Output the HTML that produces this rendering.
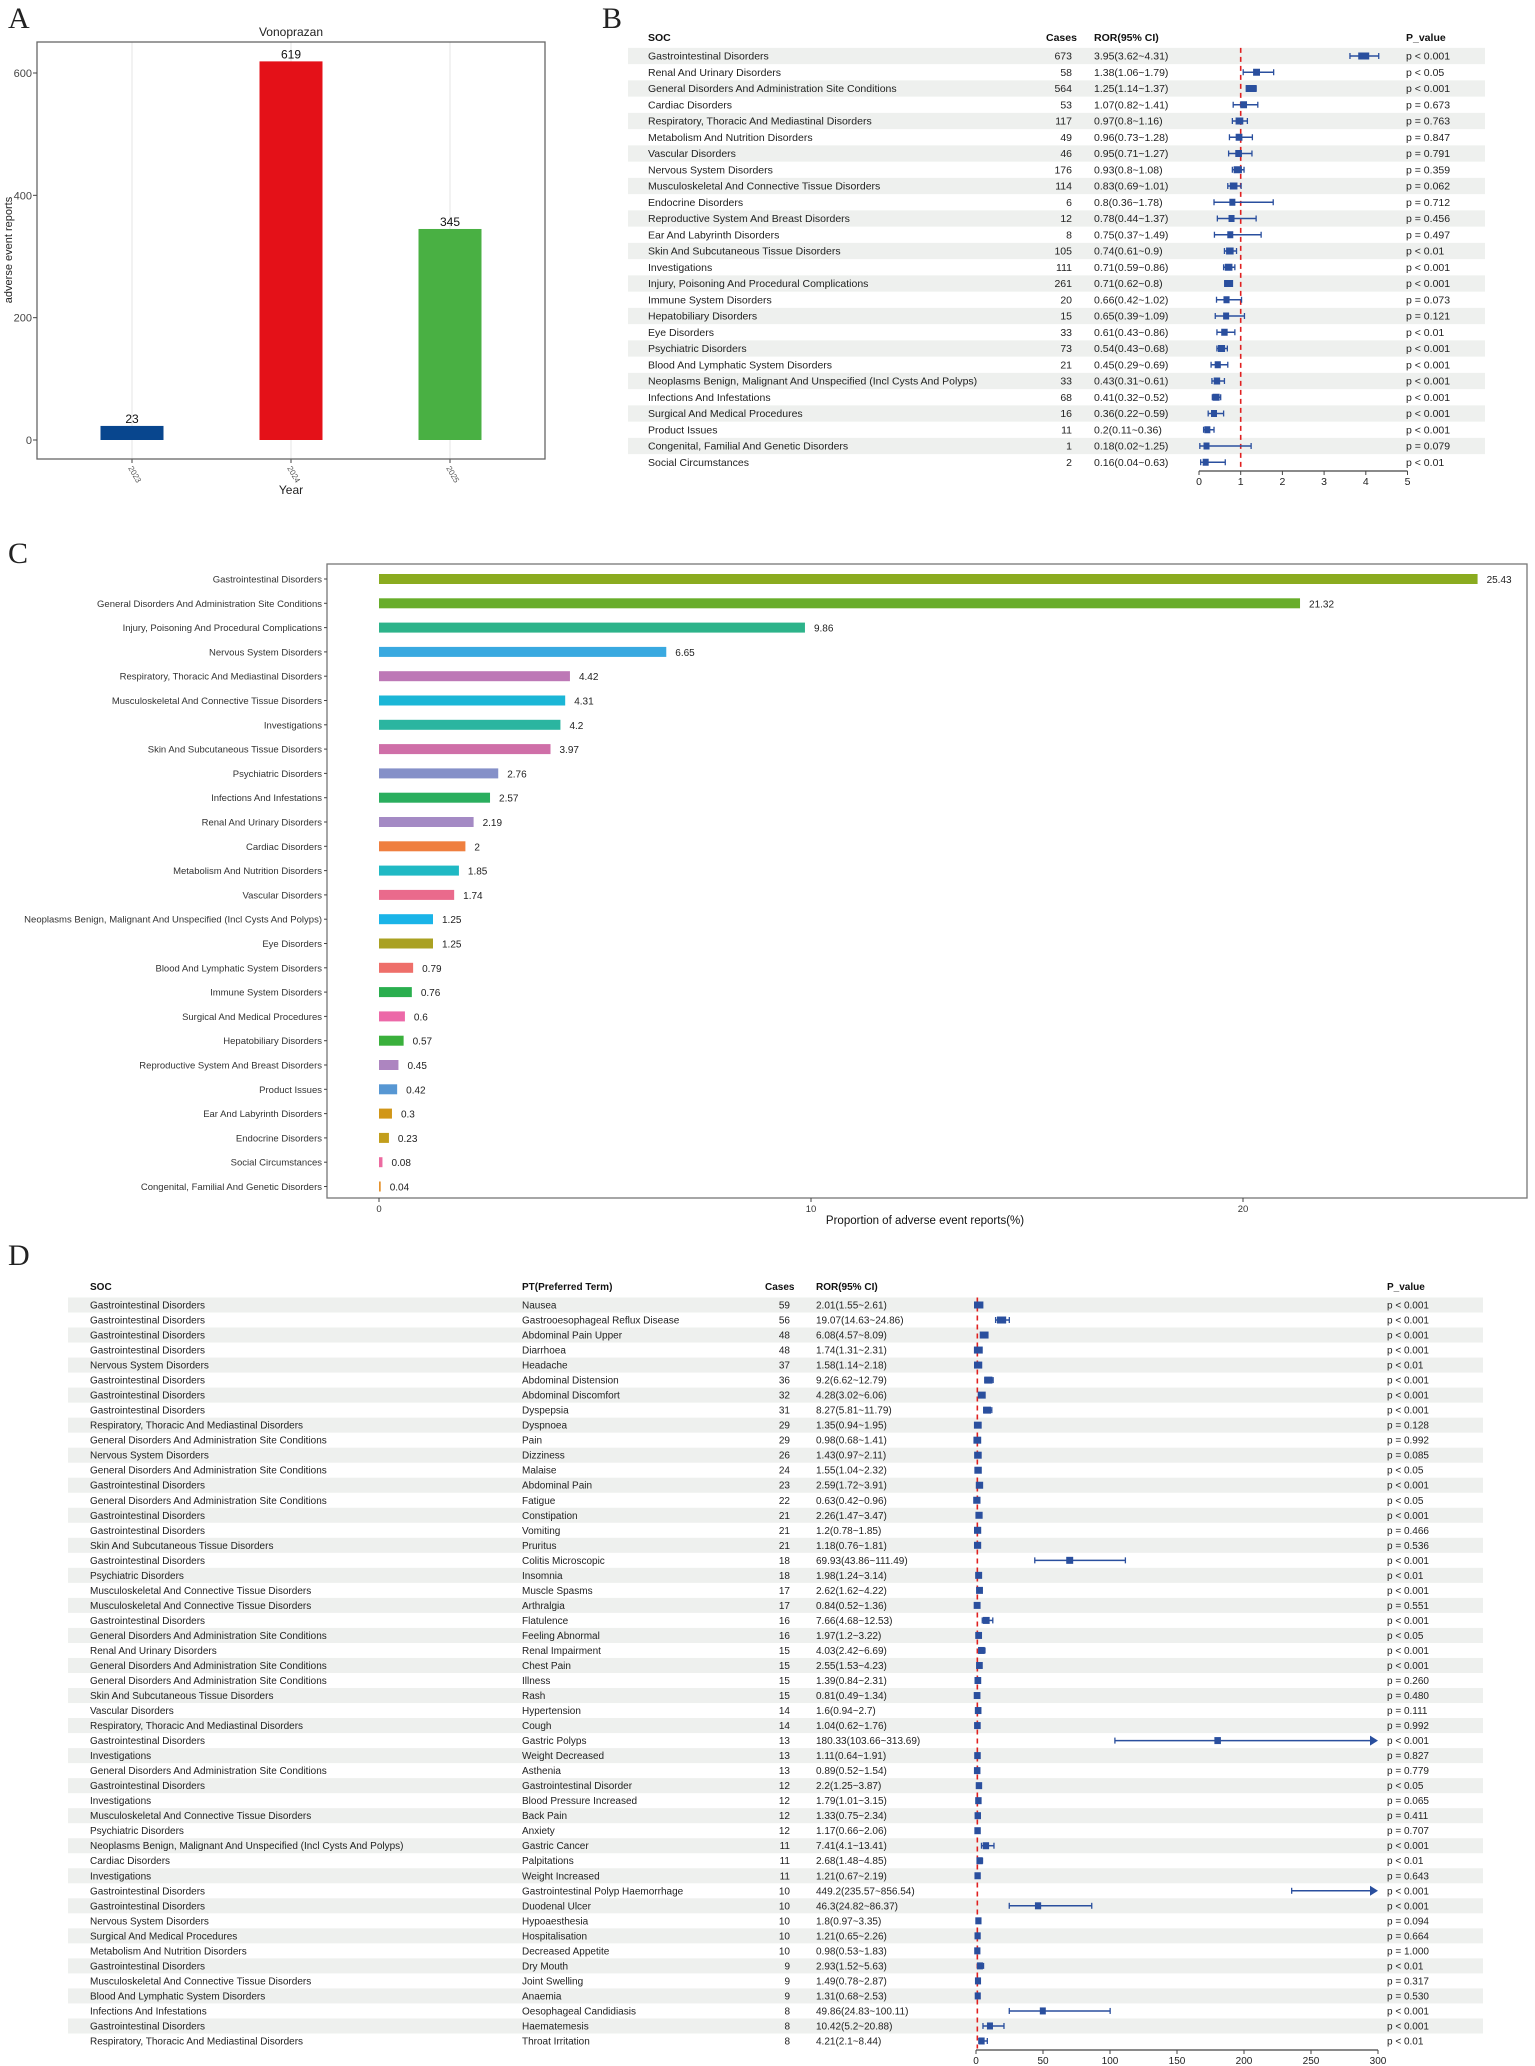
<!DOCTYPE html>
<html><head><meta charset="utf-8">
<style>
html,body{margin:0;padding:0;background:#fff;}
svg{display:block;font-family:"Liberation Sans",Arial,sans-serif;}
.pl{font-family:"Liberation Serif",serif;font-size:30px;fill:#222;}
</style></head>
<body>
<svg id="fig" width="1535" height="2066" viewBox="0 0 1535 2066" xmlns="http://www.w3.org/2000/svg">
<text class="pl" x="8" y="28">A</text>
<text class="pl" x="602" y="28">B</text>
<text class="pl" x="8" y="563">C</text>
<text class="pl" x="8" y="1265">D</text>
<g id="gA"></g>
<g id="gB"></g>
<g id="gC"></g>
<g id="gD"></g>
</svg>
<script>
var yearCats = ["2023","2024","2025"];
var yearCounts = [23,619,345];
var yearTicks = [0,200,400,600];
var yearColors = ["#08468e","#e41118","#49b043"];

var socNames = ["Gastrointestinal Disorders","Renal And Urinary Disorders","General Disorders And Administration Site Conditions","Cardiac Disorders","Respiratory, Thoracic And Mediastinal Disorders","Metabolism And Nutrition Disorders","Vascular Disorders","Nervous System Disorders","Musculoskeletal And Connective Tissue Disorders","Endocrine Disorders","Reproductive System And Breast Disorders","Ear And Labyrinth Disorders","Skin And Subcutaneous Tissue Disorders","Investigations","Injury, Poisoning And Procedural Complications","Immune System Disorders","Hepatobiliary Disorders","Eye Disorders","Psychiatric Disorders","Blood And Lymphatic System Disorders","Neoplasms Benign, Malignant And Unspecified (Incl Cysts And Polyps)","Infections And Infestations","Surgical And Medical Procedures","Product Issues","Congenital, Familial And Genetic Disorders","Social Circumstances"];
var socCases = [673,58,564,53,117,49,46,176,114,6,12,8,105,111,261,20,15,33,73,21,33,68,16,11,1,2];
var socRor = [3.95,1.38,1.25,1.07,0.97,0.96,0.95,0.93,0.83,0.8,0.78,0.75,0.74,0.71,0.71,0.66,0.65,0.61,0.54,0.45,0.43,0.41,0.36,0.2,0.18,0.16];
var socLo = [3.62,1.06,1.14,0.82,0.8,0.73,0.71,0.8,0.69,0.36,0.44,0.37,0.61,0.59,0.62,0.42,0.39,0.43,0.43,0.29,0.31,0.32,0.22,0.11,0.02,0.04];
var socHi = [4.31,1.79,1.37,1.41,1.16,1.28,1.27,1.08,1.01,1.78,1.37,1.49,0.9,0.86,0.8,1.02,1.09,0.86,0.68,0.69,0.61,0.52,0.59,0.36,1.25,0.63];
var socP = ["p < 0.001","p < 0.05","p < 0.001","p = 0.673","p = 0.763","p = 0.847","p = 0.791","p = 0.359","p = 0.062","p = 0.712","p = 0.456","p = 0.497","p < 0.01","p < 0.001","p < 0.001","p = 0.073","p = 0.121","p < 0.01","p < 0.001","p < 0.001","p < 0.001","p < 0.001","p < 0.001","p < 0.001","p = 0.079","p < 0.01"];
var socTicks = [0,1,2,3,4,5];

var propNames = ["Gastrointestinal Disorders","General Disorders And Administration Site Conditions","Injury, Poisoning And Procedural Complications","Nervous System Disorders","Respiratory, Thoracic And Mediastinal Disorders","Musculoskeletal And Connective Tissue Disorders","Investigations","Skin And Subcutaneous Tissue Disorders","Psychiatric Disorders","Infections And Infestations","Renal And Urinary Disorders","Cardiac Disorders","Metabolism And Nutrition Disorders","Vascular Disorders","Neoplasms Benign, Malignant And Unspecified (Incl Cysts And Polyps)","Eye Disorders","Blood And Lymphatic System Disorders","Immune System Disorders","Surgical And Medical Procedures","Hepatobiliary Disorders","Reproductive System And Breast Disorders","Product Issues","Ear And Labyrinth Disorders","Endocrine Disorders","Social Circumstances","Congenital, Familial And Genetic Disorders"];
var propValues = [25.43,21.32,9.86,6.65,4.42,4.31,4.2,3.97,2.76,2.57,2.19,2,1.85,1.74,1.25,1.25,0.79,0.76,0.6,0.57,0.45,0.42,0.3,0.23,0.08,0.04];
var propColors = ["#8aab1f","#68ad2a","#2db38a","#39a9e0","#bd78b6","#1bb6d6","#2bb5a0","#cf6fa8","#8590c8","#2aae5e","#a48ac4","#ef7f3f","#1fb9c4","#ea6a8c","#1ab4e8","#aaa122","#ee6f6a","#2aae4e","#ec69a8","#3ab03c","#ad85c0","#5797d3","#d19617","#c29e1c","#ec6aa0","#e5922e"];
var propTicks = [0,10,20];

var ptSoc = ["Gastrointestinal Disorders","Gastrointestinal Disorders","Gastrointestinal Disorders","Gastrointestinal Disorders","Nervous System Disorders","Gastrointestinal Disorders","Gastrointestinal Disorders","Gastrointestinal Disorders","Respiratory, Thoracic And Mediastinal Disorders","General Disorders And Administration Site Conditions","Nervous System Disorders","General Disorders And Administration Site Conditions","Gastrointestinal Disorders","General Disorders And Administration Site Conditions","Gastrointestinal Disorders","Gastrointestinal Disorders","Skin And Subcutaneous Tissue Disorders","Gastrointestinal Disorders","Psychiatric Disorders","Musculoskeletal And Connective Tissue Disorders","Musculoskeletal And Connective Tissue Disorders","Gastrointestinal Disorders","General Disorders And Administration Site Conditions","Renal And Urinary Disorders","General Disorders And Administration Site Conditions","General Disorders And Administration Site Conditions","Skin And Subcutaneous Tissue Disorders","Vascular Disorders","Respiratory, Thoracic And Mediastinal Disorders","Gastrointestinal Disorders","Investigations","General Disorders And Administration Site Conditions","Gastrointestinal Disorders","Investigations","Musculoskeletal And Connective Tissue Disorders","Psychiatric Disorders","Neoplasms Benign, Malignant And Unspecified (Incl Cysts And Polyps)","Cardiac Disorders","Investigations","Gastrointestinal Disorders","Gastrointestinal Disorders","Nervous System Disorders","Surgical And Medical Procedures","Metabolism And Nutrition Disorders","Gastrointestinal Disorders","Musculoskeletal And Connective Tissue Disorders","Blood And Lymphatic System Disorders","Infections And Infestations","Gastrointestinal Disorders","Respiratory, Thoracic And Mediastinal Disorders"];
var ptNames = ["Nausea","Gastrooesophageal Reflux Disease","Abdominal Pain Upper","Diarrhoea","Headache","Abdominal Distension","Abdominal Discomfort","Dyspepsia","Dyspnoea","Pain","Dizziness","Malaise","Abdominal Pain","Fatigue","Constipation","Vomiting","Pruritus","Colitis Microscopic","Insomnia","Muscle Spasms","Arthralgia","Flatulence","Feeling Abnormal","Renal Impairment","Chest Pain","Illness","Rash","Hypertension","Cough","Gastric Polyps","Weight Decreased","Asthenia","Gastrointestinal Disorder","Blood Pressure Increased","Back Pain","Anxiety","Gastric Cancer","Palpitations","Weight Increased","Gastrointestinal Polyp Haemorrhage","Duodenal Ulcer","Hypoaesthesia","Hospitalisation","Decreased Appetite","Dry Mouth","Joint Swelling","Anaemia","Oesophageal Candidiasis","Haematemesis","Throat Irritation"];
var ptCases = [59,56,48,48,37,36,32,31,29,29,26,24,23,22,21,21,21,18,18,17,17,16,16,15,15,15,15,14,14,13,13,13,12,12,12,12,11,11,11,10,10,10,10,10,9,9,9,8,8,8];
var ptRor = [2.01,19.07,6.08,1.74,1.58,9.2,4.28,8.27,1.35,0.98,1.43,1.55,2.59,0.63,2.26,1.2,1.18,69.93,1.98,2.62,0.84,7.66,1.97,4.03,2.55,1.39,0.81,1.6,1.04,180.33,1.11,0.89,2.2,1.79,1.33,1.17,7.41,2.68,1.21,449.2,46.3,1.8,1.21,0.98,2.93,1.49,1.31,49.86,10.42,4.21];
var ptLo = [1.55,14.63,4.57,1.31,1.14,6.62,3.02,5.81,0.94,0.68,0.97,1.04,1.72,0.42,1.47,0.78,0.76,43.86,1.24,1.62,0.52,4.68,1.2,2.42,1.53,0.84,0.49,0.94,0.62,103.66,0.64,0.52,1.25,1.01,0.75,0.66,4.1,1.48,0.67,235.57,24.82,0.97,0.65,0.53,1.52,0.78,0.68,24.83,5.2,2.1];
var ptHi = [2.61,24.86,8.09,2.31,2.18,12.79,6.06,11.79,1.95,1.41,2.11,2.32,3.91,0.96,3.47,1.85,1.81,111.49,3.14,4.22,1.36,12.53,3.22,6.69,4.23,2.31,1.34,2.7,1.76,313.69,1.91,1.54,3.87,3.15,2.34,2.06,13.41,4.85,2.19,856.54,86.37,3.35,2.26,1.83,5.63,2.87,2.53,100.11,20.88,8.44];
var ptP = ["p < 0.001","p < 0.001","p < 0.001","p < 0.001","p < 0.01","p < 0.001","p < 0.001","p < 0.001","p = 0.128","p = 0.992","p = 0.085","p < 0.05","p < 0.001","p < 0.05","p < 0.001","p = 0.466","p = 0.536","p < 0.001","p < 0.01","p < 0.001","p = 0.551","p < 0.001","p < 0.05","p < 0.001","p < 0.001","p = 0.260","p = 0.480","p = 0.111","p = 0.992","p < 0.001","p = 0.827","p = 0.779","p < 0.05","p = 0.065","p = 0.411","p = 0.707","p < 0.001","p < 0.01","p = 0.643","p < 0.001","p < 0.001","p = 0.094","p = 0.664","p = 1.000","p < 0.01","p = 0.317","p = 0.530","p < 0.001","p < 0.001","p < 0.01"];
var ptTicks = [0,50,100,150,200,250,300];

var SVGNS = "http://www.w3.org/2000/svg";
function mk(parent, tag, attrs, text) {
  var e = document.createElementNS(SVGNS, tag);
  for (var k in attrs) { e.setAttribute(k, String(attrs[k])); }
  if (text !== undefined && text !== null) { e.textContent = String(text); }
  parent.appendChild(e);
  return e;
}

function drawA() {
  var g = document.getElementById('gA');
  var L = 37, R = 545, T = 42, B = 459;
  var base = 440, ppv = (440 - 73) / 600;
  function ya(v) { return base - v * ppv; }
  function xa(i) { return 132 + i * 159; }
  var t = mk(g, 'text', {x: 291, y: 36, 'font-size': 12, 'text-anchor': 'middle', fill: '#222'}, 'Vonoprazan');
  
  
  for (var i = 0; i < yearCats.length; i++) {
    var gl = mk(g, 'line', {x1: xa(i), x2: xa(i), y1: T, y2: B, stroke: '#e6e6e6', 'stroke-width': 1});
    
    
  }
  for (var j = 0; j < yearCounts.length; j++) {
    var v = yearCounts[j];
    var r = mk(g, 'rect', {x: xa(j) - 31.5, y: ya(v), width: 63, height: base - ya(v), fill: yearColors[j]});
    
    
    var lb = mk(g, 'text', {x: xa(j), y: ya(v) - 3, 'font-size': 12, 'text-anchor': 'middle', fill: '#111'}, v);
    
    
    var tk = mk(g, 'line', {x1: xa(j), x2: xa(j), y1: B, y2: B + 4, stroke: '#444'});
    
    
    var lx = xa(j) - 4, ly = B + 9;
    var xl = mk(g, 'text', {x: lx, y: ly, 'font-size': 8, fill: '#555', transform: 'rotate(60 ' + lx + ' ' + ly + ')'}, yearCats[j]);
    
    
  }
  var box = mk(g, 'rect', {x: L, y: T, width: R - L, height: B - T, fill: 'none', stroke: '#666', 'stroke-width': 1.3});
  
  
  for (var k = 0; k < yearTicks.length; k++) {
    var tv = yearTicks[k];
    var yt1 = mk(g, 'line', {x1: L - 4, x2: L, y1: ya(tv), y2: ya(tv), stroke: '#444'});
    
    
    var tl = mk(g, 'text', {x: L - 5, y: ya(tv) + 4, 'font-size': 11, 'text-anchor': 'end', fill: '#444'}, tv);
    
    
  }
  var xt = mk(g, 'text', {x: 291, y: 494, 'font-size': 12, 'text-anchor': 'middle', fill: '#222'}, 'Year');
  
  
  var yt = mk(g, 'text', {x: 12, y: 250, 'font-size': 11, 'text-anchor': 'middle', fill: '#222', transform: 'rotate(-90 12 250)'}, 'adverse event reports');
  
  
}

function forest(g, o) {
  var n = o.ror.length;
  function rowY(i) { return o.y0 + i * o.step; }
  function xs(v) { return o.x0 + Math.min(v, o.max) * o.ppu; }
  for (var h = 0; h < o.headers.length; h++) {
    var hd = o.headers[h];
    var ht = mk(g, 'text', {x: hd[1], y: o.hy, 'font-size': o.fs, 'font-weight': 'bold', fill: '#111'}, hd[0]);
    
    
  }
  for (var i = 0; i < n; i += 2) {
    var b = mk(g, 'rect', {x: o.bx0, y: rowY(i) - o.step / 2, width: o.bx1 - o.bx0, height: o.step, fill: '#eef0ee'});
    
    
  }
  for (var i2 = 0; i2 < n; i2++) {
    var cy = rowY(i2) + o.fs * 0.35;
    var cols = o.textCols(i2);
    for (var c = 0; c < cols.length; c++) {
      var cc = cols[c];
      var tx = mk(g, 'text', {x: cc[1], y: cy, 'font-size': o.fs, 'text-anchor': cc[2], fill: '#222'}, cc[0]);
      
      
    }
  }
  var rl = mk(g, 'line', {x1: xs(1), x2: xs(1), y1: o.y0 - o.step / 2, y2: rowY(n - 1) + o.step / 2, stroke: '#e02020', 'stroke-width': 1.6, 'stroke-dasharray': '5,4'});
  
  
  for (var i3 = 0; i3 < n; i3++) {
    var yy = rowY(i3);
    var over = o.hi[i3] > o.max;
    var x2 = over ? xs(o.max) - 6 : xs(o.hi[i3]);
    var ci = mk(g, 'line', {x1: xs(o.lo[i3]), x2: x2, y1: yy, y2: yy, stroke: '#2a4f9e', 'stroke-width': 1.5});
    
    
    var cap1 = mk(g, 'line', {x1: xs(o.lo[i3]), x2: xs(o.lo[i3]), y1: yy - 3, y2: yy + 3, stroke: '#2a4f9e', 'stroke-width': 1.3});
    
    
    if (!over) {
      var cap2 = mk(g, 'line', {x1: xs(o.hi[i3]), x2: xs(o.hi[i3]), y1: yy - 3, y2: yy + 3, stroke: '#2a4f9e', 'stroke-width': 1.3});
      
      
    } else {
      var xm = xs(o.max);
      var ar = mk(g, 'polygon', {points: xm + ',' + yy + ' ' + (xm - 8) + ',' + (yy - 5) + ' ' + (xm - 8) + ',' + (yy + 5), fill: '#2a4f9e'});
      
      
    }
    if (o.ror[i3] <= o.max) {
      var s = o.size(o.cases[i3]);
      var sq = mk(g, 'rect', {x: xs(o.ror[i3]) - s / 2, y: yy - o.sh / 2, width: s, height: o.sh, fill: '#2a4f9e'});
      
      
    }
  }
  var last = o.ticks[o.ticks.length - 1];
  var ax = mk(g, 'line', {x1: xs(0), x2: xs(last), y1: o.ay, y2: o.ay, stroke: '#444', 'stroke-width': 1.3});
  
  
  for (var t = 0; t < o.ticks.length; t++) {
    var tv = o.ticks[t];
    var tk = mk(g, 'line', {x1: xs(tv), x2: xs(tv), y1: o.ay, y2: o.ay + 4, stroke: '#444'});
    
    
    var tl = mk(g, 'text', {x: xs(tv), y: o.ay + 14, 'font-size': o.fs, 'text-anchor': 'middle', fill: '#222'}, tv);
    
    
  }
}

function drawB() {
  forest(document.getElementById('gB'), {
    ror: socRor, lo: socLo, hi: socHi, cases: socCases, max: 5, ticks: socTicks,
    x0: 1199, ppu: 41.7, y0: 56, step: 16.25, hy: 41, fs: 10.5, bx0: 628, bx1: 1485, ay: 471, sh: 7,
    size: function (c) { return Math.max(6, Math.min(11, 5 + Math.sqrt(c) * 0.25)); },
    headers: [["SOC", 648], ["Cases", 1046], ["ROR(95% CI)", 1094], ["P_value", 1406]],
    textCols: function (i) {
      return [[socNames[i], 648, 'start', 'soc-name'], [socCases[i], 1072, 'end', 'case-count'],
        [socRor[i] + '(' + socLo[i] + '~' + socHi[i] + ')', 1094, 'start', 'ror-ci-text'], [socP[i], 1406, 'start', 'p-value']];
    }
  });
}

function drawC() {
  var g = document.getElementById('gC');
  var L = 327, R = 1527, T = 564, B = 1198;
  var x0 = 379, ppu = 43.2;
  function xs(v) { return x0 + v * ppu; }
  function rowY(i) { return 579 + i * 24.3; }
  var box = mk(g, 'rect', {x: L, y: T, width: R - L, height: B - T, fill: 'none', stroke: '#777', 'stroke-width': 1.3});
  
  
  for (var i = 0; i < propValues.length; i++) {
    var v = propValues[i];
    var cy = rowY(i);
    var r = mk(g, 'rect', {x: x0, y: cy - 5, width: Math.max(1.5, v * ppu), height: 10, fill: propColors[i]});
    
    
    var vl = mk(g, 'text', {x: xs(v) + 9, y: cy + 4, 'font-size': 10, fill: '#222'}, v);
    
    
    var tk = mk(g, 'line', {x1: L - 3, x2: L, y1: cy, y2: cy, stroke: '#444'});
    
    
    var cl = mk(g, 'text', {x: L - 5, y: cy + 3.5, 'font-size': 9.5, 'text-anchor': 'end', fill: '#333'}, propNames[i]);
    
    
  }
  for (var k = 0; k < propTicks.length; k++) {
    var tv = propTicks[k];
    var t1 = mk(g, 'line', {x1: xs(tv), x2: xs(tv), y1: B, y2: B + 4, stroke: '#444'});
    
    
    var tl = mk(g, 'text', {x: xs(tv), y: B + 14, 'font-size': 9.5, 'text-anchor': 'middle', fill: '#333'}, tv);
    
    
  }
  var xt = mk(g, 'text', {x: 925, y: 1224, 'font-size': 11.5, 'text-anchor': 'middle', fill: '#111'}, 'Proportion of adverse event reports(%)');
  
  
}

function drawD() {
  forest(document.getElementById('gD'), {
    ror: ptRor, lo: ptLo, hi: ptHi, cases: ptCases, max: 300, ticks: ptTicks,
    x0: 976, ppu: 1.34, y0: 1305, step: 15.02, hy: 1290, fs: 10, bx0: 68, bx1: 1483, ay: 2050, sh: 7,
    size: function (c) { return Math.max(6, Math.min(10, 4 + Math.sqrt(c) * 0.7)); },
    headers: [["SOC", 90], ["PT(Preferred Term)", 522], ["Cases", 765], ["ROR(95% CI)", 816], ["P_value", 1387]],
    textCols: function (i) {
      return [[ptSoc[i], 90, 'start', 'soc-name'], [ptNames[i], 522, 'start', 'preferred-term'], [ptCases[i], 790, 'end', 'case-count'],
        [ptRor[i] + '(' + ptLo[i] + '~' + ptHi[i] + ')', 816, 'start', 'ror-ci-text'], [ptP[i], 1387, 'start', 'p-value']];
    }
  });
}

try { drawA(); } catch (e) { console.log(e); }
try { drawB(); } catch (e) { console.log(e); }
try { drawC(); } catch (e) { console.log(e); }
try { drawD(); } catch (e) { console.log(e); }
</script>
</body></html>
